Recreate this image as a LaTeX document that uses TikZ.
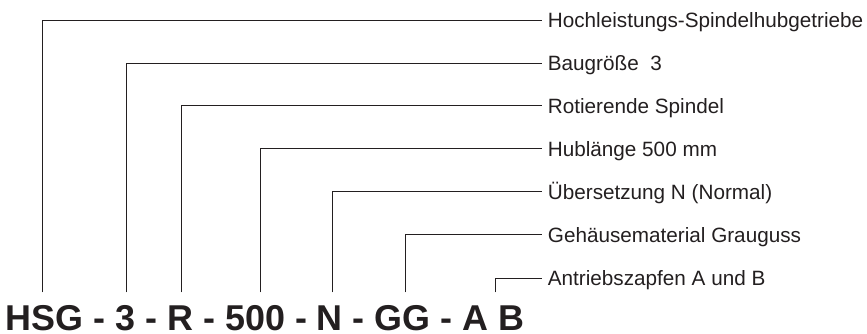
\documentclass[tikz,border=0pt]{standalone}
\usepackage{fontspec}
\setmainfont{Liberation Sans}
\definecolor{ink}{HTML}{231F20}
\begin{document}
\begin{tikzpicture}[x=1pt,y=1pt,
  lbl/.style={anchor=west,inner sep=0pt,text height=14.8pt,text depth=0pt,font=\fontsize{20.7}{24}\selectfont,text=ink},
  leader/.style={draw=ink,line width=1pt},
  code/.style={anchor=base west,inner sep=0pt,font=\fontsize{35.9}{40}\selectfont\bfseries,text=ink}]
\useasboundingbox (0,0) rectangle (867,334);
\node[code] (code) at (5.6,3.8) {HSG - 3 - R - 500 - N - GG - A B};
\node[lbl] (l1) at (547.7,313.5) {Hochleistungs-Spindelhubgetriebe};
\node[lbl] (l2) at (547.7,270.5) {Baugröße~~3};
\node[lbl] (l3) at (547.7,228) {Rotierende Spindel};
\node[lbl] (l4) at (547.7,185) {Hublänge 500 mm};
\node[lbl] (l5) at (547.7,142) {Übersetzung N (Normal)};
\node[lbl] (l6) at (547.7,99) {Gehäusematerial Grauguss};
\node[lbl] (l7) at (547.7,55.7) {Antriebszapfen A und B};
\coordinate (b1) at (42.5,41.5);
\coordinate (b2) at (126.7,41.5);
\coordinate (b3) at (181,41.5);
\coordinate (b4) at (260,41.5);
\coordinate (b5) at (332,41.5);
\coordinate (b6) at (405.5,41.5);
\coordinate (b7) at (495,41.5);
\foreach \i in {1,...,7}
  \draw[leader] (b\i) |- ([xshift=-6pt]l\i.west);
\end{tikzpicture}
\end{document}
